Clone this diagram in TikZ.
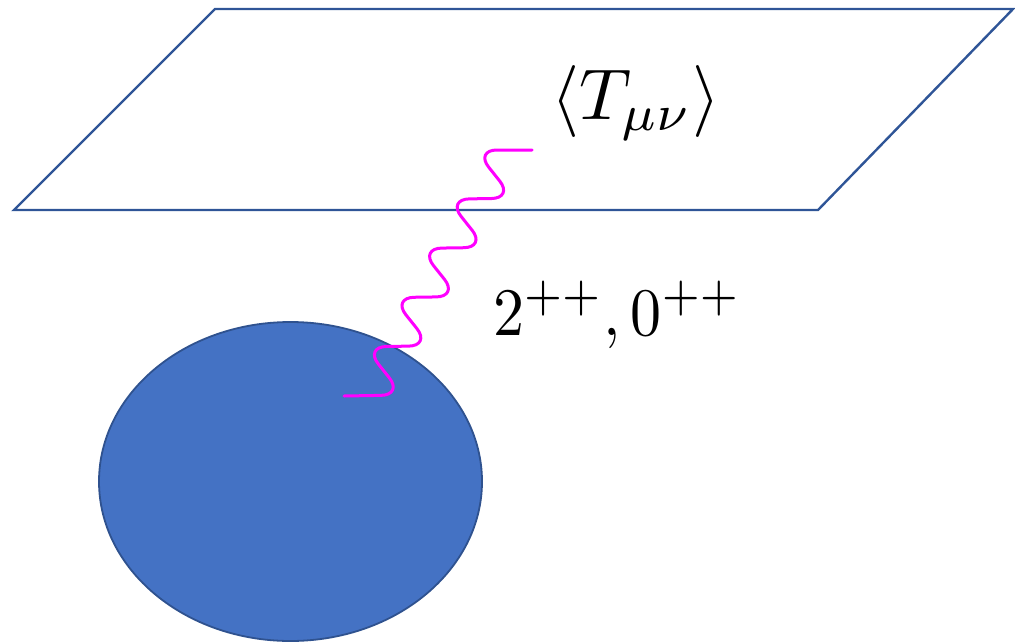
\documentclass[tikz,border=0pt]{standalone}
\usepackage{tikz}
\usetikzlibrary{shapes.geometric, calc}
\definecolor{planeblue}{HTML}{2F5597}
\definecolor{ballfill}{HTML}{4472C4}
\definecolor{balledge}{HTML}{2F528F}
\definecolor{wavepink}{HTML}{FF00FF}
\newcommand{\bigtext}[2][3.5]{\scalebox{#1}{#2}}
\begin{document}
\begin{tikzpicture}[
  x=0.5pt, y=-0.5pt,
  plane/.style={draw=planeblue, line width=1.2pt, line join=miter},
  ball/.style={ellipse, draw=balledge, fill=ballfill, line width=0.9pt, inner sep=0pt, minimum width=191.5pt, minimum height=159.5pt},
  wave/.style={draw=wavepink, line width=1.5pt, line cap=round, rounded corners=11pt}
]
  \useasboundingbox (0,0) rectangle (1015,642);
  \coordinate (p1) at (215,9);
  \coordinate (p2) at (1013,9);
  \coordinate (p3) at (818,210);
  \coordinate (p4) at (14,210);
  \draw[plane] (p1) -- (p2) -- (p3) -- (p4) -- cycle;
  \node[ball] (ball) at (290.5,481.5) {};
  \coordinate (wstart) at (344,396);
  \coordinate (wend) at (532,150);
  \draw[wave] (wstart) -- ++(59,-1)
    foreach \k in {1,...,4} { -- ++(-38.4,-48.2) -- ++(66,-1) }
    -- ++(-38.4,-48.2) -- (wend);
  \node (tmn) at (636,103) {\bigtext[3.6]{$\langle T_{\mu\nu}\rangle$}};
  \node[anchor=base] (spin) at (617,335) {\scalebox{3.1}[3.4]{$2^{++},0^{++}$}};
\end{tikzpicture}
\end{document}
